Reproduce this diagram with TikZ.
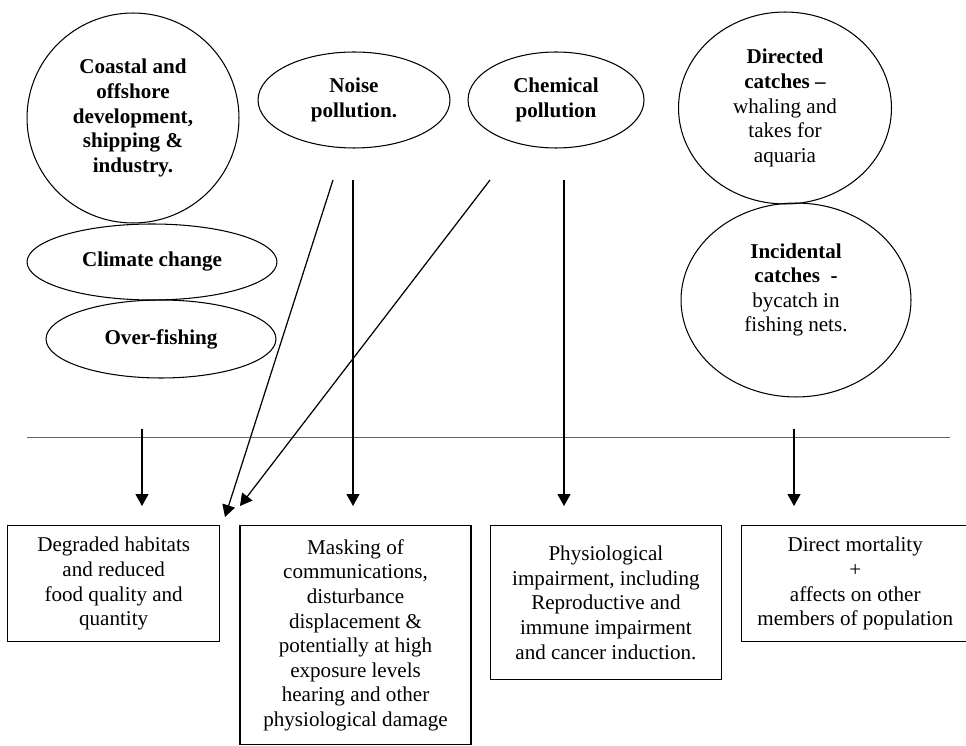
\documentclass[tikz,border=0pt]{standalone}
\usepackage{fontspec}
\setmainfont{Liberation Serif}
\usetikzlibrary{arrows.meta,positioning,shapes.geometric}

\begin{document}
\begin{tikzpicture}[x=0.02cm, y=-0.02cm, >={Triangle[length=2.4mm,width=2.6mm]},
  font=\fontsize{12pt}{14pt}\selectfont,
  thr/.style={draw,ellipse,line width=0.6pt,align=center,font=\fontsize{12pt}{14pt}\selectfont\bfseries},
  eff/.style={draw,rectangle,line width=0.8pt,align=center,anchor=north west},
  sep/.style={draw=black!60,line width=0.5pt},
  arr/.style={->,line width=0.7pt}]
  \useasboundingbox (0,0) rectangle (966,746);
  % threats
  \node[thr,minimum width=4.24cm,minimum height=4.2cm] (coast) at (133,118) {Coastal and\\offshore\\development,\\shipping \&\\industry.};
  \node[thr,minimum width=3.84cm,minimum height=1.92cm] (noise) at (354,100) {Noise\\pollution.};
  \node[thr,minimum width=3.52cm,minimum height=1.92cm] (chem) at (556,100) {Chemical\\pollution};
  \node[thr,minimum width=5cm,minimum height=1.52cm] (climate) at (152,262) {Climate change};
  \node[thr,minimum width=4.6cm,minimum height=1.56cm] (fish) at (161,339) {Over-fishing};
  \node[thr,minimum width=4.26cm,minimum height=3.84cm] (direct) at (785,108) {Directed\\catches --\\\mdseries whaling and\\\mdseries takes for\\\mdseries aquaria};
  \node[thr,minimum width=4.6cm,minimum height=3.88cm] (bycatch) at (796,300) {Incidental\\catches \ -\\\mdseries bycatch in\\\mdseries fishing nets.\\\mbox{}};
  \draw[sep] (27,437) -- (950,437);
  % effects
  \node[eff,minimum width=4.24cm,minimum height=2.32cm] (hab) at (7,525) {Degraded habitats\\and reduced\\food quality and\\quantity};
  \node[eff,minimum width=4.62cm,minimum height=4.38cm,right=3.8mm of hab.north east,anchor=north west] (mask) {Masking of\\communications,\\disturbance\\displacement \&\\potentially at high\\exposure levels\\hearing and other\\physiological damage};
  \node[eff,minimum width=4.62cm,minimum height=3.08cm,right=3.6mm of mask.north east,anchor=north west] (phys) {Physiological\\impairment, including\\Reproductive and\\immune impairment\\and cancer induction.};
  \node[eff,minimum width=4.54cm,minimum height=2.32cm,right=3.8mm of phys.north east,anchor=north west] (mort) {Direct mortality\\+\\affects on other\\members of population};
  \coordinate (h1) at (142,429); \coordinate (h2) at (794,429);
  \coordinate (n1) at (333,180); \coordinate (n2) at (353,180);
  \coordinate (c1) at (490,180); \coordinate (c2) at (564,180);
  \coordinate (gap1) at (225,517); \coordinate (gap2) at (240,506);
  \draw[arr,shorten >=3.8mm] (h1) -- (h1 |- hab.north);
  \draw[arr] (n1) -- (gap1); \draw[arr] (c1) -- (gap2);
  \draw[arr,shorten >=3.8mm] (n2) -- (n2 |- mask.north);
  \draw[arr,shorten >=3.8mm] (c2) -- (c2 |- phys.north);
  \draw[arr,shorten >=3.8mm] (h2) -- (h2 |- mort.north);
\end{tikzpicture}
\end{document}
